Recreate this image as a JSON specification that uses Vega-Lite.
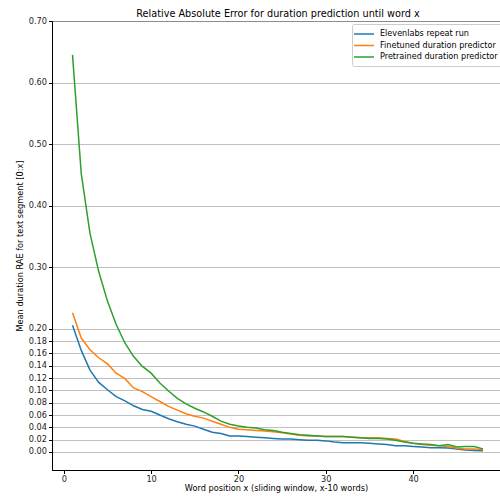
{
  "$schema": "https://vega.github.io/schema/vega-lite/v6.json",
  "width": 448,
  "height": 449,
  "autosize": {"type": "none"},
  "padding": {"left": 52, "top": 21, "right": 0, "bottom": 27},
  "background": "white",
  "title": {"text": "Relative Absolute Error for duration prediction until word x", "font": "DejaVu Sans", "fontSize": 9.7, "fontWeight": "normal", "color": "#000000", "offset": -3, "anchor": "middle", "dx": 2},
  "config": {
    "view": {"stroke": "#000000", "strokeWidth": 1},
    "axis": {"labelFont": "DejaVu Sans", "labelFontSize": 8.2, "labelColor": "#222222", "titleFont": "DejaVu Sans", "titleFontSize": 8.2, "titleFontWeight": "normal", "titleColor": "#000000", "tickColor": "#000000", "tickSize": 3.5, "domainColor": "#000000", "labelPadding": 2}
  },
  "data": {"values": [
    {"x": 1, "s": "Elevenlabs repeat run", "v": 0.206},
    {"x": 2, "s": "Elevenlabs repeat run", "v": 0.165},
    {"x": 3, "s": "Elevenlabs repeat run", "v": 0.133},
    {"x": 4, "s": "Elevenlabs repeat run", "v": 0.113},
    {"x": 5, "s": "Elevenlabs repeat run", "v": 0.101},
    {"x": 6, "s": "Elevenlabs repeat run", "v": 0.090},
    {"x": 7, "s": "Elevenlabs repeat run", "v": 0.083},
    {"x": 8, "s": "Elevenlabs repeat run", "v": 0.075},
    {"x": 9, "s": "Elevenlabs repeat run", "v": 0.069},
    {"x": 10, "s": "Elevenlabs repeat run", "v": 0.066},
    {"x": 11, "s": "Elevenlabs repeat run", "v": 0.060},
    {"x": 12, "s": "Elevenlabs repeat run", "v": 0.054},
    {"x": 13, "s": "Elevenlabs repeat run", "v": 0.049},
    {"x": 14, "s": "Elevenlabs repeat run", "v": 0.045},
    {"x": 15, "s": "Elevenlabs repeat run", "v": 0.042},
    {"x": 16, "s": "Elevenlabs repeat run", "v": 0.037},
    {"x": 17, "s": "Elevenlabs repeat run", "v": 0.032},
    {"x": 18, "s": "Elevenlabs repeat run", "v": 0.030},
    {"x": 19, "s": "Elevenlabs repeat run", "v": 0.026},
    {"x": 20, "s": "Elevenlabs repeat run", "v": 0.026},
    {"x": 21, "s": "Elevenlabs repeat run", "v": 0.025},
    {"x": 22, "s": "Elevenlabs repeat run", "v": 0.024},
    {"x": 23, "s": "Elevenlabs repeat run", "v": 0.023},
    {"x": 24, "s": "Elevenlabs repeat run", "v": 0.022},
    {"x": 25, "s": "Elevenlabs repeat run", "v": 0.021},
    {"x": 26, "s": "Elevenlabs repeat run", "v": 0.021},
    {"x": 27, "s": "Elevenlabs repeat run", "v": 0.020},
    {"x": 28, "s": "Elevenlabs repeat run", "v": 0.019},
    {"x": 29, "s": "Elevenlabs repeat run", "v": 0.019},
    {"x": 30, "s": "Elevenlabs repeat run", "v": 0.018},
    {"x": 31, "s": "Elevenlabs repeat run", "v": 0.016},
    {"x": 32, "s": "Elevenlabs repeat run", "v": 0.015},
    {"x": 33, "s": "Elevenlabs repeat run", "v": 0.015},
    {"x": 34, "s": "Elevenlabs repeat run", "v": 0.015},
    {"x": 35, "s": "Elevenlabs repeat run", "v": 0.014},
    {"x": 36, "s": "Elevenlabs repeat run", "v": 0.013},
    {"x": 37, "s": "Elevenlabs repeat run", "v": 0.012},
    {"x": 38, "s": "Elevenlabs repeat run", "v": 0.010},
    {"x": 39, "s": "Elevenlabs repeat run", "v": 0.010},
    {"x": 40, "s": "Elevenlabs repeat run", "v": 0.009},
    {"x": 41, "s": "Elevenlabs repeat run", "v": 0.008},
    {"x": 42, "s": "Elevenlabs repeat run", "v": 0.007},
    {"x": 43, "s": "Elevenlabs repeat run", "v": 0.007},
    {"x": 44, "s": "Elevenlabs repeat run", "v": 0.0065},
    {"x": 45, "s": "Elevenlabs repeat run", "v": 0.005},
    {"x": 46, "s": "Elevenlabs repeat run", "v": 0.003},
    {"x": 47, "s": "Elevenlabs repeat run", "v": 0.0025},
    {"x": 48, "s": "Elevenlabs repeat run", "v": 0.002},
    {"x": 1, "s": "Finetuned duration predictor", "v": 0.226},
    {"x": 2, "s": "Finetuned duration predictor", "v": 0.185},
    {"x": 3, "s": "Finetuned duration predictor", "v": 0.166},
    {"x": 4, "s": "Finetuned duration predictor", "v": 0.153},
    {"x": 5, "s": "Finetuned duration predictor", "v": 0.143},
    {"x": 6, "s": "Finetuned duration predictor", "v": 0.128},
    {"x": 7, "s": "Finetuned duration predictor", "v": 0.119},
    {"x": 8, "s": "Finetuned duration predictor", "v": 0.104},
    {"x": 9, "s": "Finetuned duration predictor", "v": 0.098},
    {"x": 10, "s": "Finetuned duration predictor", "v": 0.090},
    {"x": 11, "s": "Finetuned duration predictor", "v": 0.082},
    {"x": 12, "s": "Finetuned duration predictor", "v": 0.074},
    {"x": 13, "s": "Finetuned duration predictor", "v": 0.068},
    {"x": 14, "s": "Finetuned duration predictor", "v": 0.062},
    {"x": 15, "s": "Finetuned duration predictor", "v": 0.058},
    {"x": 16, "s": "Finetuned duration predictor", "v": 0.055},
    {"x": 17, "s": "Finetuned duration predictor", "v": 0.050},
    {"x": 18, "s": "Finetuned duration predictor", "v": 0.045},
    {"x": 19, "s": "Finetuned duration predictor", "v": 0.040},
    {"x": 20, "s": "Finetuned duration predictor", "v": 0.037},
    {"x": 21, "s": "Finetuned duration predictor", "v": 0.036},
    {"x": 22, "s": "Finetuned duration predictor", "v": 0.035},
    {"x": 23, "s": "Finetuned duration predictor", "v": 0.034},
    {"x": 24, "s": "Finetuned duration predictor", "v": 0.033},
    {"x": 25, "s": "Finetuned duration predictor", "v": 0.031},
    {"x": 26, "s": "Finetuned duration predictor", "v": 0.029},
    {"x": 27, "s": "Finetuned duration predictor", "v": 0.027},
    {"x": 28, "s": "Finetuned duration predictor", "v": 0.026},
    {"x": 29, "s": "Finetuned duration predictor", "v": 0.026},
    {"x": 30, "s": "Finetuned duration predictor", "v": 0.025},
    {"x": 31, "s": "Finetuned duration predictor", "v": 0.025},
    {"x": 32, "s": "Finetuned duration predictor", "v": 0.025},
    {"x": 33, "s": "Finetuned duration predictor", "v": 0.024},
    {"x": 34, "s": "Finetuned duration predictor", "v": 0.023},
    {"x": 35, "s": "Finetuned duration predictor", "v": 0.023},
    {"x": 36, "s": "Finetuned duration predictor", "v": 0.023},
    {"x": 37, "s": "Finetuned duration predictor", "v": 0.022},
    {"x": 38, "s": "Finetuned duration predictor", "v": 0.021},
    {"x": 39, "s": "Finetuned duration predictor", "v": 0.017},
    {"x": 40, "s": "Finetuned duration predictor", "v": 0.014},
    {"x": 41, "s": "Finetuned duration predictor", "v": 0.012},
    {"x": 42, "s": "Finetuned duration predictor", "v": 0.011},
    {"x": 43, "s": "Finetuned duration predictor", "v": 0.010},
    {"x": 44, "s": "Finetuned duration predictor", "v": 0.009},
    {"x": 45, "s": "Finetuned duration predictor", "v": 0.006},
    {"x": 46, "s": "Finetuned duration predictor", "v": 0.005},
    {"x": 47, "s": "Finetuned duration predictor", "v": 0.005},
    {"x": 48, "s": "Finetuned duration predictor", "v": 0.004},
    {"x": 1, "s": "Pretrained duration predictor", "v": 0.645},
    {"x": 2, "s": "Pretrained duration predictor", "v": 0.452},
    {"x": 3, "s": "Pretrained duration predictor", "v": 0.355},
    {"x": 4, "s": "Pretrained duration predictor", "v": 0.293},
    {"x": 5, "s": "Pretrained duration predictor", "v": 0.245},
    {"x": 6, "s": "Pretrained duration predictor", "v": 0.207},
    {"x": 7, "s": "Pretrained duration predictor", "v": 0.177},
    {"x": 8, "s": "Pretrained duration predictor", "v": 0.155},
    {"x": 9, "s": "Pretrained duration predictor", "v": 0.139},
    {"x": 10, "s": "Pretrained duration predictor", "v": 0.128},
    {"x": 11, "s": "Pretrained duration predictor", "v": 0.112},
    {"x": 12, "s": "Pretrained duration predictor", "v": 0.099},
    {"x": 13, "s": "Pretrained duration predictor", "v": 0.087},
    {"x": 14, "s": "Pretrained duration predictor", "v": 0.078},
    {"x": 15, "s": "Pretrained duration predictor", "v": 0.071},
    {"x": 16, "s": "Pretrained duration predictor", "v": 0.065},
    {"x": 17, "s": "Pretrained duration predictor", "v": 0.058},
    {"x": 18, "s": "Pretrained duration predictor", "v": 0.050},
    {"x": 19, "s": "Pretrained duration predictor", "v": 0.045},
    {"x": 20, "s": "Pretrained duration predictor", "v": 0.042},
    {"x": 21, "s": "Pretrained duration predictor", "v": 0.040},
    {"x": 22, "s": "Pretrained duration predictor", "v": 0.039},
    {"x": 23, "s": "Pretrained duration predictor", "v": 0.036},
    {"x": 24, "s": "Pretrained duration predictor", "v": 0.035},
    {"x": 25, "s": "Pretrained duration predictor", "v": 0.032},
    {"x": 26, "s": "Pretrained duration predictor", "v": 0.030},
    {"x": 27, "s": "Pretrained duration predictor", "v": 0.028},
    {"x": 28, "s": "Pretrained duration predictor", "v": 0.027},
    {"x": 29, "s": "Pretrained duration predictor", "v": 0.026},
    {"x": 30, "s": "Pretrained duration predictor", "v": 0.025},
    {"x": 31, "s": "Pretrained duration predictor", "v": 0.025},
    {"x": 32, "s": "Pretrained duration predictor", "v": 0.025},
    {"x": 33, "s": "Pretrained duration predictor", "v": 0.024},
    {"x": 34, "s": "Pretrained duration predictor", "v": 0.023},
    {"x": 35, "s": "Pretrained duration predictor", "v": 0.022},
    {"x": 36, "s": "Pretrained duration predictor", "v": 0.022},
    {"x": 37, "s": "Pretrained duration predictor", "v": 0.021},
    {"x": 38, "s": "Pretrained duration predictor", "v": 0.019},
    {"x": 39, "s": "Pretrained duration predictor", "v": 0.016},
    {"x": 40, "s": "Pretrained duration predictor", "v": 0.014},
    {"x": 41, "s": "Pretrained duration predictor", "v": 0.013},
    {"x": 42, "s": "Pretrained duration predictor", "v": 0.012},
    {"x": 43, "s": "Pretrained duration predictor", "v": 0.010},
    {"x": 44, "s": "Pretrained duration predictor", "v": 0.012},
    {"x": 45, "s": "Pretrained duration predictor", "v": 0.008},
    {"x": 46, "s": "Pretrained duration predictor", "v": 0.009},
    {"x": 47, "s": "Pretrained duration predictor", "v": 0.009},
    {"x": 48, "s": "Pretrained duration predictor", "v": 0.005}
  ]},
  "mark": {"type": "line", "strokeWidth": 1.5, "clip": true},
  "encoding": {
    "x": {"field": "x", "type": "quantitative", "scale": {"domain": [-1.35, 49.95], "nice": false, "zero": false},
      "axis": {"title": "Word position x (sliding window, x-10 words)", "values": [0, 10, 20, 30, 40], "grid": false, "titlePadding": 2, "labelFlush": false}},
    "y": {"field": "v", "type": "quantitative", "scale": {"domain": [-0.0293, 0.70], "nice": false, "zero": false},
      "axis": {"title": "Mean duration RAE for text segment [0:x]", "values": [0, 0.02, 0.04, 0.06, 0.08, 0.1, 0.12, 0.14, 0.16, 0.18, 0.2, 0.3, 0.4, 0.5, 0.6, 0.7], "format": ".2f", "grid": true, "gridColor": "#b0b0b0", "gridWidth": 0.8, "titlePadding": 4, "labelFlush": false}},
    "color": {"field": "s", "type": "nominal", "scale": {"domain": ["Elevenlabs repeat run", "Finetuned duration predictor", "Pretrained duration predictor"], "range": ["#1f77b4", "#ff7f0e", "#2ca02c"]},
      "legend": {"title": null, "orient": "none", "legendX": 300, "legendY": 3, "symbolType": "M-1.6,0H2.4", "symbolSize": 100, "symbolStrokeWidth": 1.5, "labelFont": "DejaVu Sans", "labelFontSize": 8.1, "labelColor": "#000000", "rowPadding": 0.5, "padding": 4, "strokeColor": "#cccccc", "fillColor": "white", "cornerRadius": 2, "labelOffset": 12}}
  }
}
